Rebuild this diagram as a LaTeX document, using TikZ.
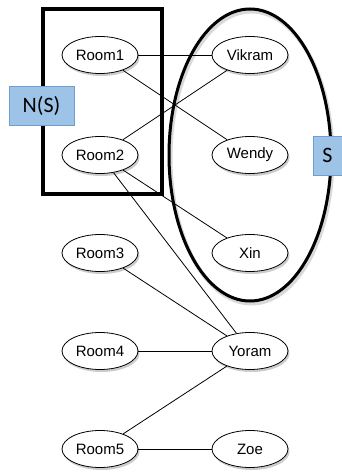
\documentclass[tikz,border=0pt]{standalone}
\usepackage{fontspec}
\setmainfont{Liberation Sans}
\newfontfamily\calib{Carlito}
\usetikzlibrary{shapes.geometric,shadows}
\definecolor{tagfill}{HTML}{9DC3E6}
\definecolor{tagline}{HTML}{6F9FD0}
\begin{document}
\begin{tikzpicture}[x=1pt,y=-1pt,
  vert/.style={ellipse,draw,line width=0.8pt,fill=white,minimum width=76pt,minimum height=37pt,inner sep=0pt,
    font=\fontsize{15}{17}\selectfont,
    drop shadow={opacity=0.4,shadow xshift=1.5pt,shadow yshift=-2.5pt}},
  edge/.style={line width=0.8pt},
  tag/.style={draw=tagline,fill=tagfill,line width=0.6pt,font=\calib\fontsize{22}{24}\selectfont,inner sep=0pt}]
\useasboundingbox (0,0) rectangle (342,474);
% S ellipse
\draw[line width=4pt, color=black!15, xshift=1.5pt, yshift=-2.5pt] (250,155) ellipse [x radius=81pt, y radius=146pt];
\node[draw,line width=3pt,ellipse,minimum width=162pt,minimum height=292pt,inner sep=0pt] (Sell) at (250,155) {};
% N(S) rectangle
\node[draw,line width=4pt,minimum width=119pt,minimum height=185pt,inner sep=0pt] (NSrect) at (102.5,101.5) {};
% vertices
\node[vert] (r1) at (100,55) {Room1};
\node[vert] (r2) at (100,155) {Room2};
\node[vert] (r3) at (100,253) {Room3};
\node[vert] (r4) at (100,351) {Room4};
\node[vert] (r5) at (100,449) {Room5};
\node[vert] (v) at (250,55) {Vikram};
\node[vert] (w) at (250,155) {Wendy};
\node[vert] (x) at (250,253) {Xin};
\node[vert] (y) at (250,351) {Yoram};
\node[vert] (z) at (250,449) {Zoe};
% edges
\draw[edge] (r1) -- (v);
\draw[edge] (r1) -- (w);
\draw[edge] (r2) -- (v);
\draw[edge] (r2) -- (x);
\draw[edge] (r2) -- (y);
\draw[edge] (r3) -- (y);
\draw[edge] (r4) -- (y);
\draw[edge] (r5) -- (y);
\draw[edge] (r5) -- (z);
% labels
\node[tag,minimum width=65pt,minimum height=39pt] (ns) at (41.5,105.5) {N(S)};
\node[tag,minimum width=29pt,minimum height=39pt] (s) at (327.5,155.5) {S};
\end{tikzpicture}
\end{document}
